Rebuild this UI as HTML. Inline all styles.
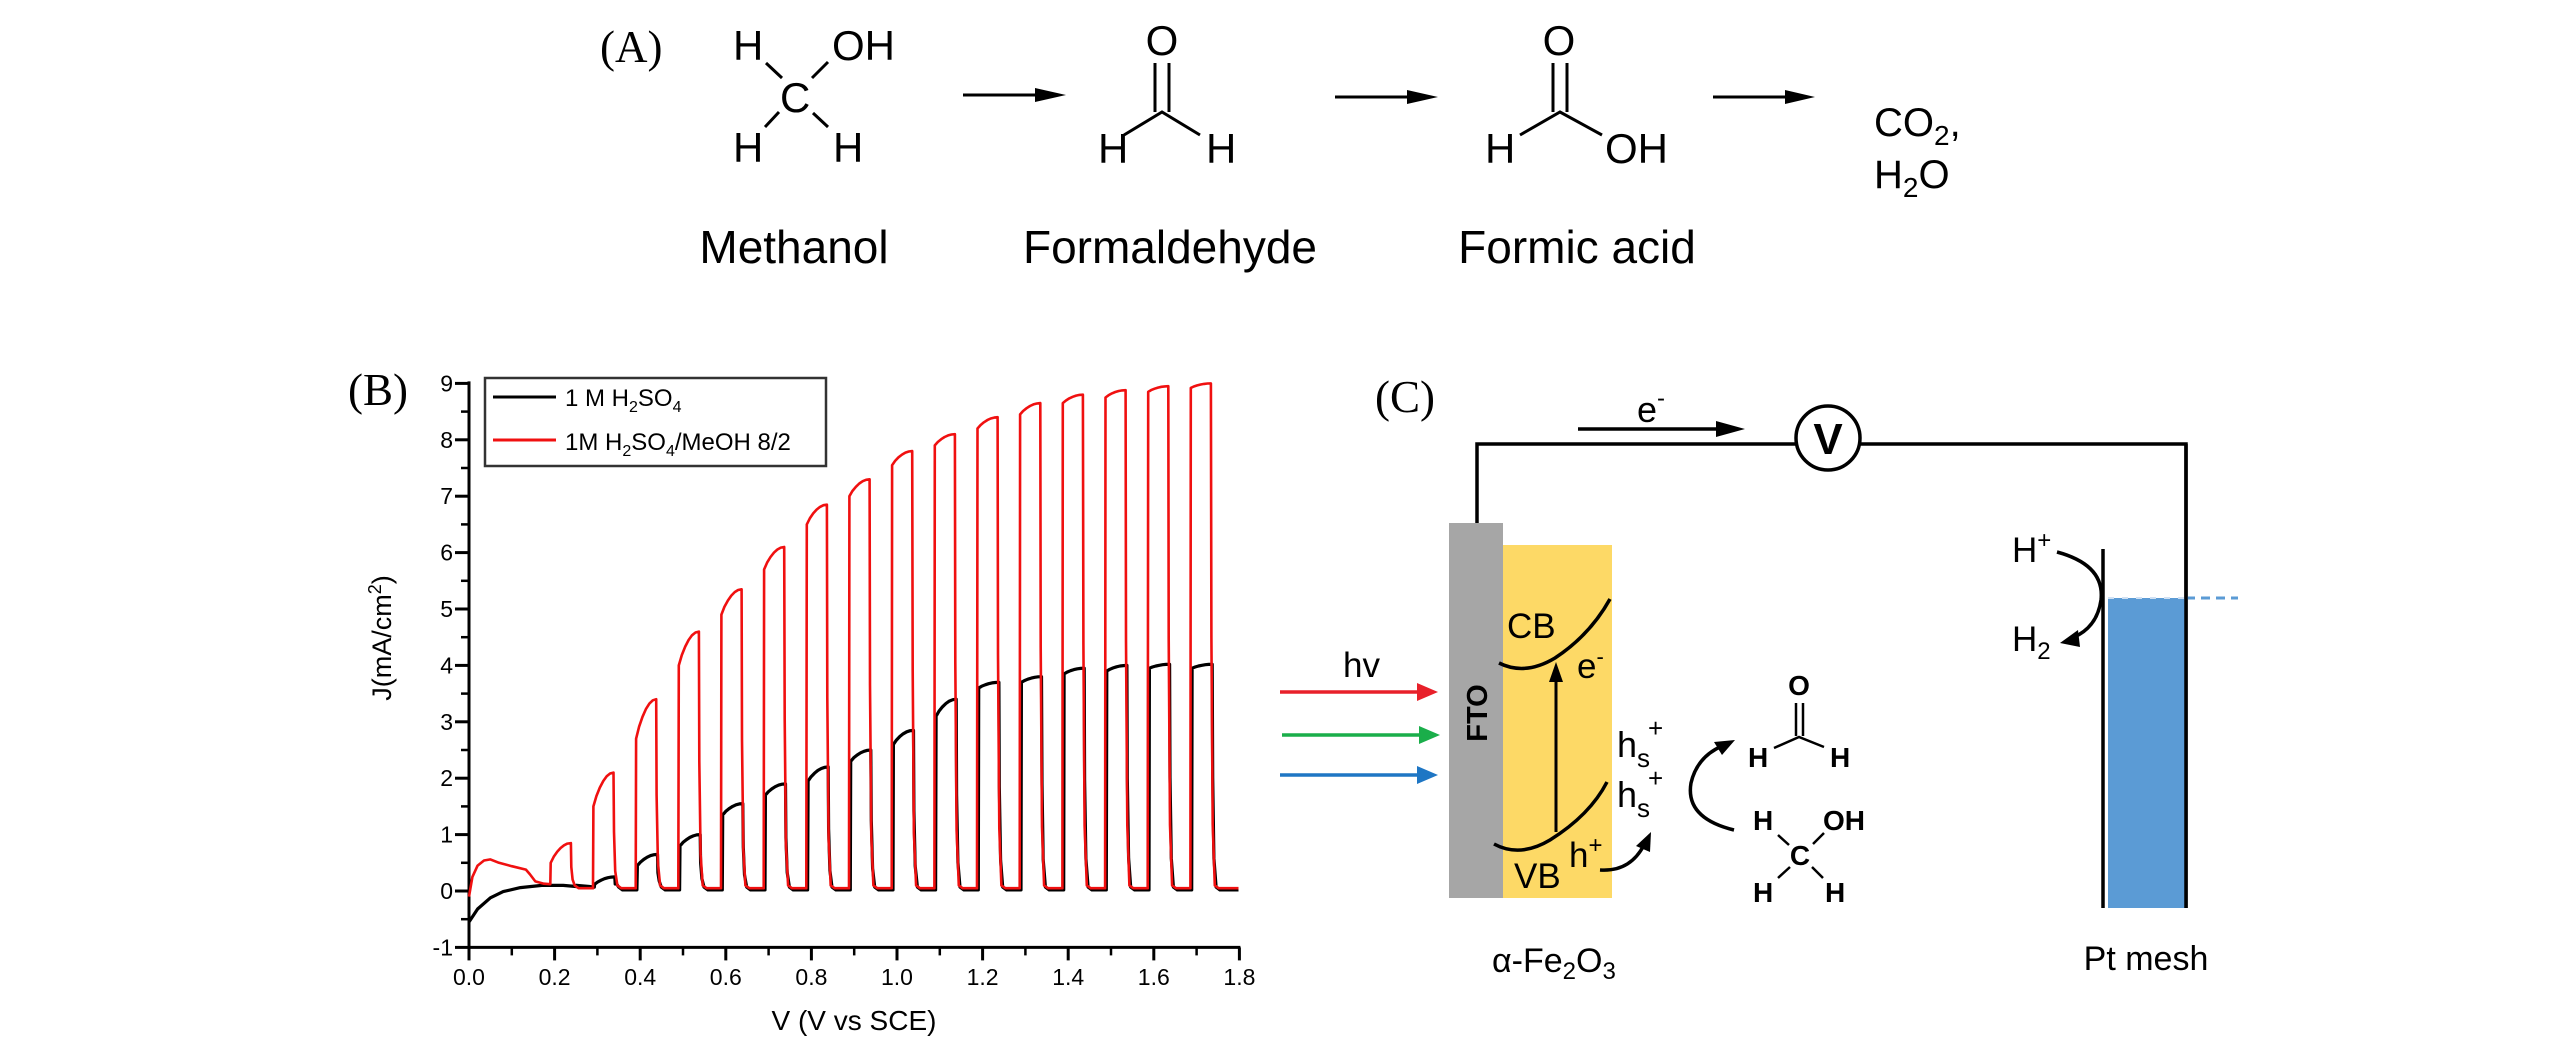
<!DOCTYPE html>
<html><head><meta charset="utf-8">
<style>
html,body{margin:0;padding:0;background:#fff;}
svg{display:block;}
text{font-family:"Liberation Sans",Arial,sans-serif;fill:#000;}
.serif{font-family:"Liberation Serif","Times New Roman",serif;}
</style></head>
<body>
<svg id="s" width="2567" height="1051" viewBox="0 0 2567 1051" xmlns="http://www.w3.org/2000/svg">
<rect width="2567" height="1051" fill="#fff"/>

<!-- Panel A -->
<text class="serif" x="600" y="62" font-size="45">(A)</text>
<g font-size="42">
<text x="733" y="60">H</text><text x="832" y="60">OH</text>
<text x="780" y="112">C</text>
<text x="733" y="162">H</text><text x="833" y="162">H</text>
</g>
<g stroke="#000" stroke-width="3" fill="none">
<line x1="766" y1="63" x2="782" y2="78"/><line x1="828" y1="62" x2="812" y2="78"/>
<line x1="779" y1="112" x2="765" y2="127"/><line x1="813" y1="113" x2="828" y2="127"/>
</g>
<g stroke="#000" stroke-width="3">
<line x1="963" y1="95" x2="1040" y2="95"/><line x1="1335" y1="97" x2="1412" y2="97"/><line x1="1713" y1="97" x2="1790" y2="97"/>
</g>
<g fill="#000">
<path d="M1035,88 L1066,95 L1035,102z"/><path d="M1407,90 L1438,97 L1407,104z"/><path d="M1785,90 L1815,97 L1785,104z"/>
</g>
<g font-size="42">
<text x="1162" y="55" text-anchor="middle">O</text>
<text x="1098" y="163">H</text><text x="1206" y="163">H</text>
<text x="1559" y="55" text-anchor="middle">O</text>
<text x="1485" y="163">H</text><text x="1605" y="163">OH</text>
</g>
<g stroke="#000" stroke-width="3" fill="none">
<line x1="1155" y1="63" x2="1155" y2="112"/><line x1="1169" y1="63" x2="1169" y2="112"/>
<polyline points="1124,135 1162,112 1200,135"/>
<line x1="1553" y1="63" x2="1553" y2="112"/><line x1="1567" y1="63" x2="1567" y2="112"/>
<polyline points="1520,135 1560,112 1602,135"/>
</g>
<text x="1874" y="136" font-size="40">CO<tspan font-size="28" dy="9">2</tspan><tspan dy="-9">,</tspan></text>
<text x="1874" y="188" font-size="40">H<tspan font-size="28" dy="9">2</tspan><tspan dy="-9">O</tspan></text>
<g font-size="46" text-anchor="middle">
<text x="794" y="263">Methanol</text>
<text x="1170" y="263">Formaldehyde</text>
<text x="1577" y="263">Formic acid</text>
</g>

<!-- Panel B -->
<text class="serif" x="348" y="405" font-size="45">(B)</text>
<g id="axes" stroke="#000" stroke-width="3" fill="none"></g>
<g id="ticklabels" font-size="23"></g>
<text transform="translate(391,638) rotate(-90)" font-size="27" text-anchor="middle">J(mA/cm<tspan font-size="18" dy="-10">2</tspan><tspan dy="10">)</tspan></text>
<text x="854" y="1030" font-size="28" text-anchor="middle">V (V vs SCE)</text>
<path id="black" fill="none" stroke="#000" stroke-width="3.2" stroke-linejoin="round"/>
<path id="red" fill="none" stroke="#f01010" stroke-width="2.6" stroke-linejoin="round"/>
<rect x="485" y="378" width="341" height="88" fill="#fff" stroke="#333" stroke-width="2.5"/>
<line x1="493" y1="397" x2="556" y2="397" stroke="#000" stroke-width="3"/>
<line x1="493" y1="440" x2="556" y2="440" stroke="#f01010" stroke-width="3"/>
<text x="565" y="406" font-size="24">1 M H<tspan font-size="16" dy="6">2</tspan><tspan dy="-6">SO</tspan><tspan font-size="16" dy="6">4</tspan></text>
<text x="565" y="450" font-size="24">1M H<tspan font-size="16" dy="6">2</tspan><tspan dy="-6">SO</tspan><tspan font-size="16" dy="6">4</tspan><tspan dy="-6">/MeOH 8/2</tspan></text>

<!-- Panel C -->
<text class="serif" x="1375" y="412" font-size="45">(C)</text>
<text x="1637" y="422" font-size="36">e<tspan font-size="24" dy="-16">-</tspan></text>
<line x1="1578" y1="429" x2="1720" y2="429" stroke="#000" stroke-width="3.5"/>
<path d="M1716,421 L1745,429 L1716,437z" fill="#000"/>
<polyline points="1477,523 1477,444 1796,444" fill="none" stroke="#000" stroke-width="3.5"/>
<polyline points="1860,444 2186,444 2186,908" fill="none" stroke="#000" stroke-width="3.5"/>
<circle cx="1828" cy="438" r="32" fill="#fff" stroke="#000" stroke-width="3.5"/>
<text x="1828" y="454" font-size="44" font-weight="bold" text-anchor="middle">V</text>
<rect x="1449" y="523" width="54" height="375" fill="#a6a6a6"/>
<rect x="1503" y="545" width="109" height="353" fill="#fdd966"/>
<text transform="translate(1487,713) rotate(-90)" font-size="29" font-weight="bold" text-anchor="middle">FTO</text>
<text x="1507" y="638" font-size="35">CB</text>
<path d="M1499,663 Q1525,676 1555,658 Q1590,635 1610,599" fill="none" stroke="#000" stroke-width="3.5"/>
<text x="1577" y="678" font-size="35">e<tspan font-size="22" dy="-14">-</tspan></text>
<line x1="1556" y1="832" x2="1556" y2="680" stroke="#000" stroke-width="3"/>
<path d="M1549,682 L1556,662 L1563,682z" fill="#000"/>
<path d="M1494,844 Q1520,858 1550,840 Q1590,815 1607,782" fill="none" stroke="#000" stroke-width="3.5"/>
<text x="1514" y="888" font-size="35">VB</text>
<text x="1569" y="867" font-size="35">h<tspan font-size="24" dy="-14">+</tspan></text>
<path d="M1600,870 Q1630,872 1644,845" fill="none" stroke="#000" stroke-width="3.5"/>
<path d="M1636,846 L1651,832 L1650,852z" fill="#000"/>
<text x="1617" y="757" font-size="36">h<tspan font-size="26" dy="10">s</tspan><tspan font-size="26" dx="-2" dy="-30">+</tspan></text>
<text x="1617" y="807" font-size="36">h<tspan font-size="26" dy="10">s</tspan><tspan font-size="26" dx="-2" dy="-30">+</tspan></text>
<path d="M1734,830 Q1685,818 1691,783 Q1697,757 1722,746" fill="none" stroke="#000" stroke-width="3.5"/>
<path d="M1714,742 L1735,740 L1722,755z" fill="#000"/>
<text x="1343" y="677" font-size="35">hv</text>
<g stroke-width="3.5">
<line x1="1280" y1="692" x2="1420" y2="692" stroke="#e8202a"/>
<line x1="1282" y1="735" x2="1422" y2="735" stroke="#1aae4a"/>
<line x1="1280" y1="775" x2="1420" y2="775" stroke="#1e76c4"/>
</g>
<path d="M1417,683 L1438,692 L1417,701z" fill="#e8202a"/>
<path d="M1419,726 L1440,735 L1419,744z" fill="#1aae4a"/>
<path d="M1417,766 L1438,775 L1417,784z" fill="#1e76c4"/>
<g font-size="28" font-weight="bold">
<text x="1799" y="695" text-anchor="middle">O</text>
<text x="1748" y="767">H</text><text x="1830" y="767">H</text>
<text x="1753" y="830">H</text><text x="1823" y="830">OH</text>
<text x="1800" y="865" text-anchor="middle">C</text>
<text x="1753" y="902">H</text><text x="1825" y="902">H</text>
</g>
<g stroke="#000" stroke-width="2.5" fill="none">
<line x1="1796" y1="703" x2="1796" y2="736"/><line x1="1803" y1="703" x2="1803" y2="736"/>
<polyline points="1774,748 1799,737 1824,747"/>
<line x1="1778" y1="835" x2="1789" y2="845"/><line x1="1824" y1="833" x2="1813" y2="844"/>
<line x1="1790" y1="867" x2="1778" y2="878"/><line x1="1812" y1="867" x2="1823" y2="878"/>
</g>
<text x="1492" y="972" font-size="34">α-Fe<tspan font-size="24" dy="7">2</tspan><tspan dy="-7">O</tspan><tspan font-size="24" dy="7">3</tspan></text>
<rect x="2108" y="598" width="78" height="310" fill="#5b9bd5"/>
<line x1="2186" y1="598" x2="2238" y2="598" stroke="#5b9bd5" stroke-width="3" stroke-dasharray="9,6"/>
<line x1="2108" y1="598" x2="2186" y2="598" stroke="#cfe0f3" stroke-width="2" stroke-dasharray="6,8"/>
<line x1="2103" y1="549" x2="2103" y2="908" stroke="#000" stroke-width="3.5"/>
<line x1="2186" y1="444" x2="2186" y2="908" stroke="#000" stroke-width="3.5"/>
<text x="2012" y="562" font-size="35">H<tspan font-size="24" dy="-14">+</tspan></text>
<text x="2012" y="651" font-size="35">H<tspan font-size="24" dy="8">2</tspan></text>
<path d="M2057,552 Q2105,565 2101,600 Q2097,628 2072,638" fill="none" stroke="#000" stroke-width="3.5"/>
<path d="M2078,630 L2060,643 L2080,647z" fill="#000"/>
<text x="2146" y="970" font-size="34" text-anchor="middle">Pt mesh</text>
</svg>
<script>
(function(){
var NS="http://www.w3.org/2000/svg";
var X=function(v){return 469+428*v;}, Y=function(j){return 891-56.4*j;};
var ax=document.getElementById('axes'), tl=document.getElementById('ticklabels');
function L(x1,y1,x2,y2,w){var l=document.createElementNS(NS,'line');l.setAttribute('x1',x1);l.setAttribute('y1',y1);l.setAttribute('x2',x2);l.setAttribute('y2',y2);if(w)l.setAttribute('stroke-width',w);ax.appendChild(l);}
function T(x,y,s,a){var t=document.createElementNS(NS,'text');t.setAttribute('x',x);t.setAttribute('y',y);t.setAttribute('text-anchor',a);t.textContent=s;tl.appendChild(t);}
L(X(0),Y(9)-2,X(0),Y(-1)+1.5);
L(X(0)-1.5,Y(-1),X(1.8)+1,Y(-1));
for(var j=-1;j<=9;j++){L(X(0)-14,Y(j),X(0),Y(j));T(X(0)-16,Y(j)+8,String(j),'end');}
for(var j=-0.5;j<9;j+=1){L(X(0)-8,Y(j),X(0),Y(j),2.5);}
for(var i=0;i<=18;i++){var v=i/10;var maj=(i%2==0);L(X(v),Y(-1),X(v),Y(-1)+(maj?13:8),maj?3:2.5);if(maj)T(X(v),985,v.toFixed(1),'middle');}
var N=16,P=0.0997,W=0.048,R0=0.19;
var rp=[0.85,2.1,3.4,4.6,5.35,6.1,6.85,7.3,7.8,8.1,8.4,8.65,8.8,8.88,8.95,9.0];
var rs=[0.5,1.5,2.7,4.0,4.9,5.7,6.5,7.0,7.55,7.9,8.2,8.45,8.65,8.75,8.85,8.92];
var bp=[0.1,0.25,0.65,1.0,1.55,1.9,2.2,2.5,2.85,3.4,3.7,3.8,3.95,4.0,4.02,4.02];
var bs=[0.1,0.12,0.45,0.8,1.35,1.7,1.95,2.3,2.6,3.1,3.6,3.7,3.85,3.9,3.95,3.95];
function build(pre,ps,ss,base,off,skip0){
 var pts=pre.slice();
 for(var n=0;n<N;n++){
  var r=R0+P*n+off,f=r+W;
  if(n==0&&skip0){pts.push([f+0.01,0.1]);pts.push([f+0.04,0.08]);continue;}
  var b=(n==0)?0.12:base;
  if(n==1&&skip0){b=0.07;}
  pts.push([r,b]);pts.push([r+0.001,ss[n]]);
  for(var k=1;k<=6;k++){var t=k/6;pts.push([r+(f-r)*t,ss[n]+(ps[n]-ss[n])*(1-(1-t)*(1-t))]);}
  var top=ps[n];
  pts.push([f+0.001,top*0.5]);pts.push([f+0.004,top*0.12+0.1]);pts.push([f+0.009,base+0.05]);pts.push([f+0.018,base]);
  var nb=(n<N-1)?R0+P*(n+1)+off:1.8;
  pts.push([Math.min(nb-0.002,1.8),base]);
 }
 var d='';for(var i=0;i<pts.length;i++){d+=(i?'L':'M')+X(pts[i][0]).toFixed(1)+','+Y(pts[i][1]).toFixed(1);}
 return d;
}
var redPre=[[0,-0.1],[0.008,0.25],[0.02,0.45],[0.035,0.54],[0.05,0.56],[0.07,0.5],[0.1,0.44],[0.133,0.38],[0.142,0.3],[0.155,0.17],[0.175,0.13],[0.19,0.12]];
var blkPre=[[0,-0.55],[0.02,-0.32],[0.05,-0.12],[0.08,-0.01],[0.12,0.06],[0.17,0.1],[0.22,0.1],[0.25,0.08],[0.283,0.07]];
document.getElementById('red').setAttribute('d',build(redPre,rp,rs,0.05,0,false));
document.getElementById('black').setAttribute('d',build(blkPre,bp,bs,0.02,0.003,true));
})();
</script>
</body></html>
